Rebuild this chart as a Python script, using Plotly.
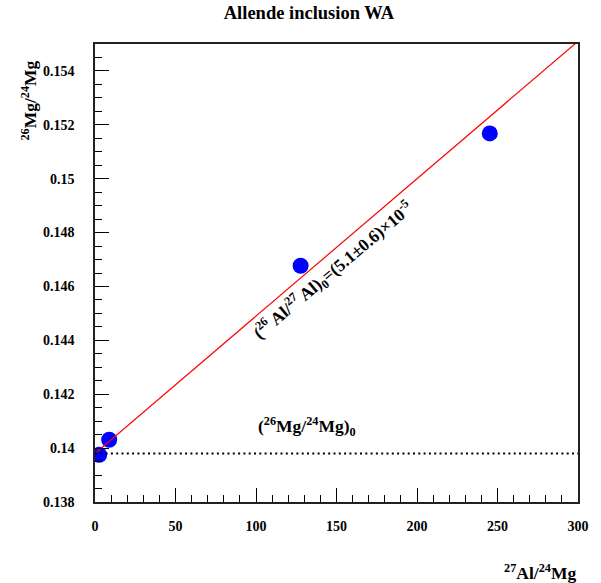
import plotly.graph_objects as go

# Measured isotope ratios for the Allende inclusion WA
al27_mg24 = [2.6, 8.8, 127.7, 245.2]
mg26_mg24 = [0.13975, 0.14031, 0.14677, 0.15168]

# Isochron fit: slope = (26Al/27Al)_0, intercept = initial (26Mg/24Mg)_0
isochron_slope = 5.1e-5
initial_ratio = 0.1398
fit_x = [0, 300]

x_tickvals = [0, 50, 100, 150, 200, 250, 300]
x_ticktext = ["0", "50", "100", "150", "200", "250", "300"]
y_tickvals = [0.138, 0.140, 0.142, 0.144, 0.146, 0.148, 0.150, 0.152, 0.154]
y_ticktext = ["0.138", "0.14", "0.142", "0.144", "0.146", "0.148", "0.15", "0.152", "0.154"]

SERIF = "Liberation Serif"

fig = go.Figure()

fig.add_trace(go.Scatter(
    x=al27_mg24, y=mg26_mg24, mode="markers",
    marker=dict(color="#0000ff", size=16, line=dict(width=0)),
    showlegend=False,
))

fig.add_trace(go.Scatter(
    x=fit_x, y=[initial_ratio + isochron_slope * v for v in fit_x],
    mode="lines", line=dict(color="#ff0000", width=1.2),
    showlegend=False,
))

fig.add_trace(go.Scatter(
    x=fit_x, y=[initial_ratio for _ in fit_x],
    mode="lines", line=dict(color="black", width=2, dash="2px,3.3px"),
    showlegend=False,
))

axis_common = dict(
    showgrid=False, zeroline=False,
    showline=True, mirror=True, linecolor="#222222", linewidth=1.5,
    ticks="inside", tickcolor="black", tickwidth=1.2, ticklen=14,
    tickfont=dict(family=SERIF, size=14, color="black", weight="bold"),
)

fig.update_xaxes(
    range=[0, 300], tickmode="array", tickvals=x_tickvals, ticktext=x_ticktext,
    ticklabelstandoff=10,
    minor=dict(dtick=10, ticks="inside", ticklen=7, tickcolor="black", tickwidth=1.2),
    **axis_common,
)
fig.update_yaxes(
    range=[0.138, 0.155], tickmode="array", tickvals=y_tickvals, ticktext=y_ticktext,
    ticklabelstandoff=16,
    minor=dict(dtick=0.0005, tick0=0.138, ticks="inside", ticklen=7, tickcolor="black", tickwidth=1.2),
    **axis_common,
)

label_font = dict(family=SERIF, size=17.5, color="black", weight="bold")

fig.update_layout(
    width=601, height=583,
    margin=dict(l=95, r=17, t=44, b=81),
    plot_bgcolor="white", paper_bgcolor="white",
    title=dict(
        text="Allende inclusion WA", x=0.514, xanchor="center",
        y=0.978, yanchor="middle",
        font=dict(family=SERIF, size=18.5, color="black", weight="bold"),
    ),
    annotations=[
        dict(
            text="<sup>27</sup>Al/<sup>24</sup>Mg", xref="paper", yref="paper",
            x=1.0, y=-0.152, xanchor="right", yanchor="middle",
            showarrow=False, font=label_font,
        ),
        dict(
            text="<sup>26</sup>Mg/<sup>24</sup>Mg", xref="paper", yref="paper",
            x=-0.137, y=0.876, xanchor="center", yanchor="middle", textangle=-90,
            showarrow=False, font=label_font,
        ),
        dict(
            text="(<sup>26</sup>Mg/<sup>24</sup>Mg)<sub>0</sub>", xref="x", yref="y",
            x=131.8, y=0.14079, xanchor="center", yanchor="middle",
            showarrow=False, font=label_font,
        ),
        dict(
            text="(<sup>26</sup> Al/<sup>27</sup> Al)<sub>0</sub>=(5.1±0.6)×10<sup>-5</sup>",
            xref="x", yref="y", x=147.8, y=0.14661, xanchor="center", yanchor="middle",
            textangle=-40, showarrow=False, font=label_font,
        ),
    ],
)

fig.write_html("out.html")
